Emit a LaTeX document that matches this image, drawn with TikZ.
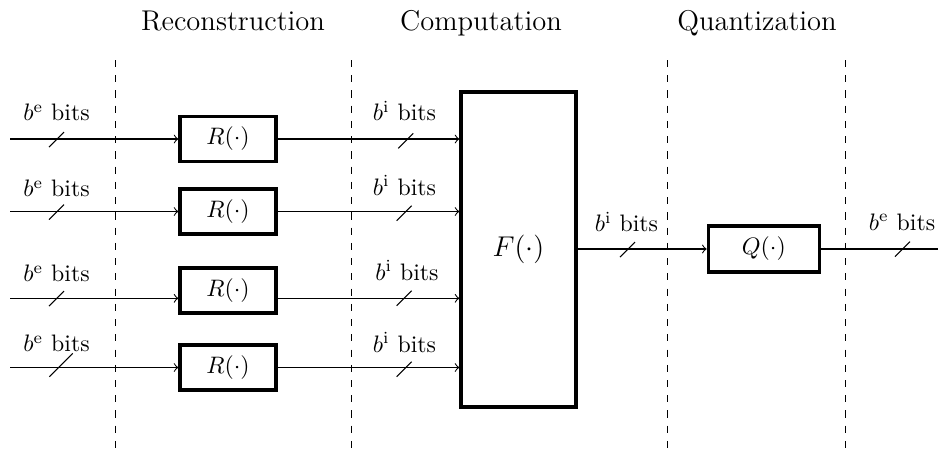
\documentclass[tikz,border=0pt]{standalone}
\begin{document}
\begin{tikzpicture}[x=0.42pt,y=-0.42pt,
  blk/.style={draw, line width=1.4pt, inner sep=0pt},
  rblk/.style={blk, minimum width=40.3pt, minimum height=18.9pt},
  sepline/.style={dash pattern=on 3pt off 3.4pt, line width=0.4pt},
  wire/.style={line width=0.45pt},
  lbl/.style={anchor=base, inner sep=0pt},
  ttl/.style={anchor=base, font=\large, inner sep=0pt}]
\useasboundingbox (0,0) rectangle (938,448);

% titles
\node[ttl] (t1) at (233,30) {Reconstruction};
\node[ttl] (t2) at (481,30) {Computation};
\node[ttl] (t3) at (757,30) {Quantization};

% separators
\coordinate (s1a) at (115,60);  \coordinate (s1b) at (115,448);
\coordinate (s2a) at (351,60);  \coordinate (s2b) at (351,448);
\coordinate (s3a) at (667,60);  \coordinate (s3b) at (667,448);
\coordinate (s4a) at (845,60);  \coordinate (s4b) at (845,448);
\draw[sepline] (s1a) -- (s1b);
\draw[sepline] (s2a) -- (s2b);
\draw[sepline] (s3a) -- (s3b);
\draw[sepline] (s4a) -- (s4b);

% blocks
\node[rblk] (R1) at (228,139) {$R(\cdot)$};
\node[rblk] (R2) at (228,211.5) {$R(\cdot)$};
\node[rblk] (R3) at (228,290.5) {$R(\cdot)$};
\node[rblk] (R4) at (228,367.5) {$R(\cdot)$};
\node[blk, minimum width=48.3pt, minimum height=132.3pt, font=\large] (F) at (518.5,249.5) {$F(\cdot)$};
\node[blk, minimum width=46.6pt, minimum height=19.3pt] (Q) at (763.8,249) {$Q(\cdot)$};

% inputs
\coordinate (i1) at (10,139);
\coordinate (i2) at (10,211.5);
\coordinate (i3) at (10,298.3);
\coordinate (i4) at (10,367.5);
\coordinate (o) at (938,249);

\draw[wire,->] (i1) -- (i1 -| R1.west);
\draw[wire,->] (i2) -- (i2 -| R2.west);
\draw[wire,->] (i3) -- (i3 -| R3.west);
\draw[wire,->] (i4) -- (i4 -| R4.west);

\draw[wire,->] (R1.east) -- (R1.east -| F.west);
\draw[wire,->] (R2.east) -- (R2.east -| F.west);
\draw[wire,->] (R3.east |- i3) -- (F.west |- i3);
\draw[wire,->] (R4.east) -- (R4.east -| F.west);

\draw[wire,->] (F.east |- Q.west) -- (Q.west);
\draw[wire] (Q.east) -- (o);

% bus slashes
\draw[wire] (49,147) -- (64,132);
\draw[wire] (49,219.5) -- (64,204.5);
\draw[wire] (49,306) -- (64,291);
\draw[wire] (49.3,376.7) -- (72.7,353.3);

\draw[wire] (398.3,148.3) -- (413.3,133.3);
\draw[wire] (396.7,220.7) -- (411.7,205.7);
\draw[wire] (396.7,305.7) -- (411.7,290.7);
\draw[wire] (396.7,376.7) -- (411.7,361.7);

\draw[wire] (620,257) -- (635,242);
\draw[wire] (895,256.7) -- (910,241.7);

% labels
\node[lbl] (a1) at (56.5,120.7) {$b^{\mathrm{e}}$ bits};
\node[lbl] (a2) at (56.5,196.7) {$b^{\mathrm{e}}$ bits};
\node[lbl] (a3) at (56.5,281.7) {$b^{\mathrm{e}}$ bits};
\node[lbl] (a4) at (56.5,351.7) {$b^{\mathrm{e}}$ bits};

\node[lbl] (c1) at (404.5,120.7) {$b^{\mathrm{i}}$ bits};
\node[lbl] (c2) at (404.5,195) {$b^{\mathrm{i}}$ bits};
\node[lbl] (c3) at (407,280) {$b^{\mathrm{i}}$ bits};
\node[lbl] (c4) at (404.5,352.3) {$b^{\mathrm{i}}$ bits};

\node[lbl] (d1) at (626.5,231.7) {$b^{\mathrm{i}}$ bits};
\node[lbl] (d2) at (902,230) {$b^{\mathrm{e}}$ bits};
\end{tikzpicture}
\end{document}
